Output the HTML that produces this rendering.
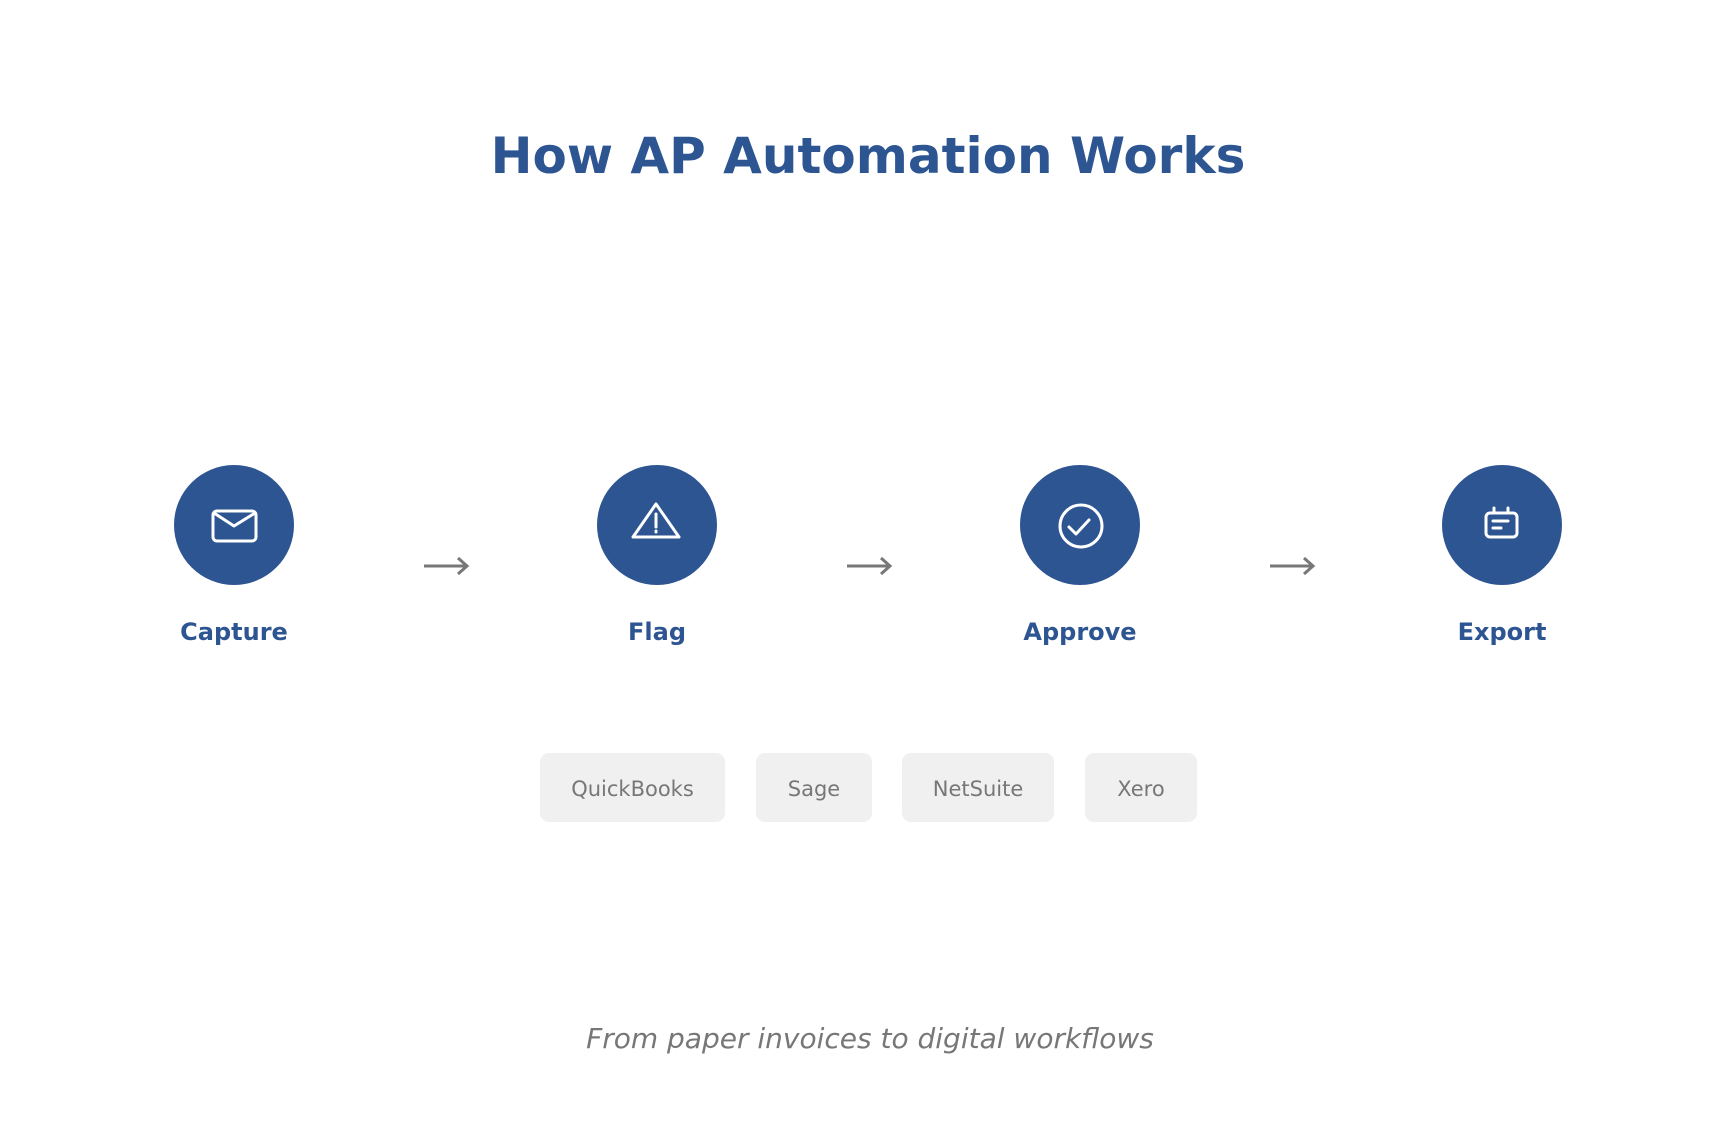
<!DOCTYPE html>
<html><head><meta charset="utf-8"><style>
body{margin:0;width:1736px;height:1128px;background:#fff;overflow:hidden;font-family:"DejaVu Sans","Liberation Sans",sans-serif}
</style></head><body>
<svg width="1736" height="1128" xmlns="http://www.w3.org/2000/svg" font-family="DejaVu Sans, Liberation Sans, sans-serif">
<text x="868" y="173" text-anchor="middle" font-size="50" font-weight="bold" fill="#2d5592">How AP Automation Works</text>
<g fill="#2d5592">
<circle cx="234" cy="525" r="60"/><circle cx="657" cy="525" r="60"/><circle cx="1080" cy="525" r="60"/><circle cx="1502" cy="525" r="60"/>
</g>
<g fill="none" stroke="#fff" stroke-width="3" stroke-linecap="round" stroke-linejoin="round">
<rect x="213" y="511" width="43" height="30" rx="4"/><path d="M214 513 L234 526 L255 513"/>
<path d="M656 504 L679 537 L633 537 Z"/><path d="M656 514 L656 527"/><path d="M656 531 L656 532"/>
<circle cx="1081" cy="526" r="21"/><path d="M1069 527 L1076 534 L1089 520"/>
<rect x="1486" y="513" width="31" height="24" rx="4"/><path d="M1494 508 L1494 513 M1508 508 L1508 513 M1493 521 L1508 521 M1493 528 L1501 528"/>
</g>
<g fill="none" stroke="#777" stroke-width="3">
<path d="M424 566 L467 566 M458 558 L467 566 L458 574"/>
<path d="M847 566 L890 566 M881 558 L890 566 L881 574"/>
<path d="M1270 566 L1313 566 M1304 558 L1313 566 L1304 574"/>
</g>
<g font-size="24" font-weight="bold" fill="#2d5592" text-anchor="middle">
<text x="234" y="640">Capture</text><text x="657" y="640">Flag</text><text x="1080" y="640">Approve</text><text x="1502" y="640">Export</text>
</g>
<g fill="#f0f0f0">
<rect x="540" y="753" width="185" height="69" rx="9"/><rect x="756" y="753" width="116" height="69" rx="9"/><rect x="902" y="753" width="152" height="69" rx="9"/><rect x="1085" y="753" width="112" height="69" rx="9"/>
</g>
<g font-size="21" fill="#777" text-anchor="middle">
<text x="632.5" y="796">QuickBooks</text><text x="814" y="796">Sage</text><text x="978" y="796">NetSuite</text><text x="1141" y="796">Xero</text>
</g>
<text x="870" y="1048" text-anchor="middle" font-size="28" font-style="italic" fill="#777">From paper invoices to digital workflows</text>
</svg>
</body></html>
